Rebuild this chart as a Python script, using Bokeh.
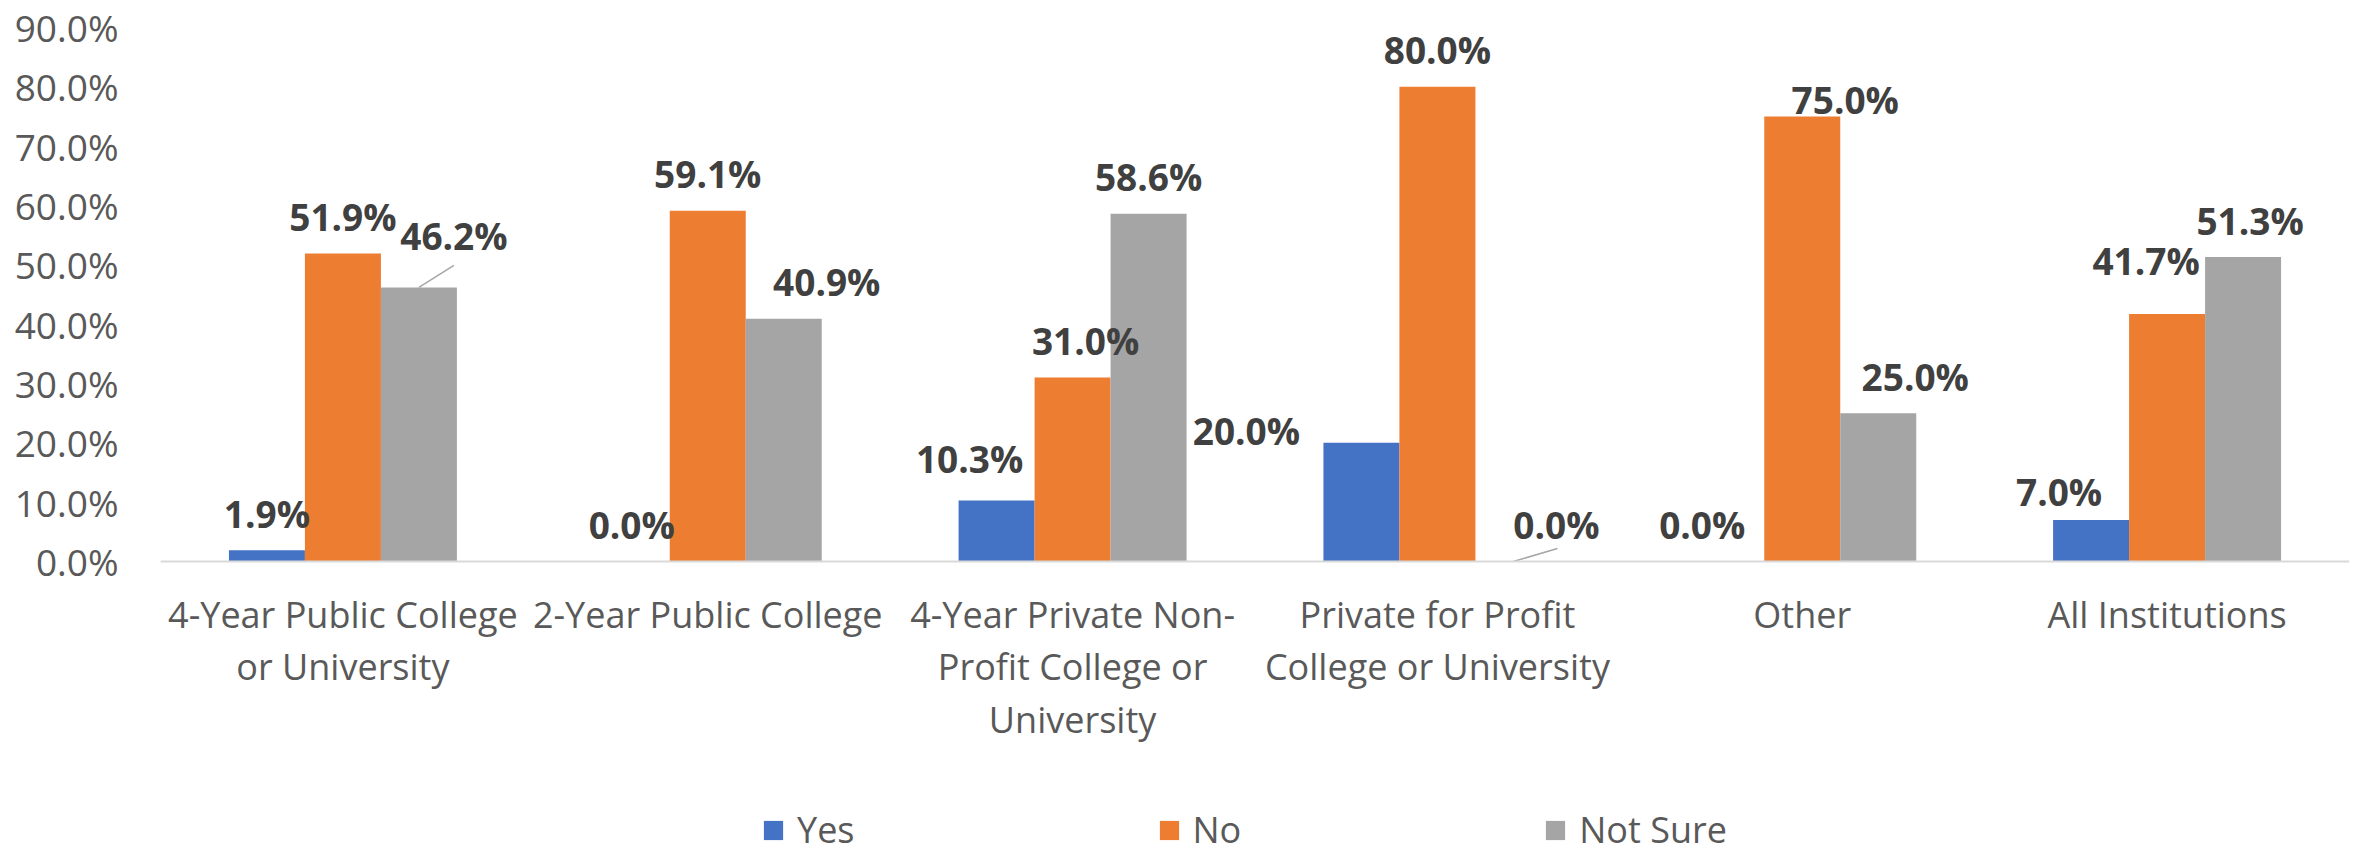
from bokeh.plotting import figure
from bokeh.models import ColumnDataSource, FactorRange, Range1d, Legend, LegendItem, PrintfTickFormatter, FixedTicker
from bokeh.transform import dodge
from bokeh.core.properties import value
from bokeh.embed import file_html
from bokeh.resources import INLINE

# ---------------- data ----------------
categories = [
    "4-Year Public College\nor University",
    "2-Year Public College",
    "4-Year Private Non-\nProfit College or\nUniversity",
    "Private for Profit\nCollege or University",
    "Other",
    "All Institutions",
]
series = ["Yes", "No", "Not Sure"]
yes = [1.9, 0.0, 10.3, 20.0, 0.0, 7.0]
no = [51.9, 59.1, 31.0, 80.0, 75.0, 41.7]
not_sure = [46.2, 40.9, 58.6, 0.0, 25.0, 51.3]
y_ticks = [0, 10, 20, 30, 40, 50, 60, 70, 80, 90]

# ---------------- styling / layout ----------------
colors = ["#4472C4", "#ED7D31", "#A5A5A5"]
W, H = 2353, 854
LEFT, RIGHT, TOP = 160, 4, 27
AXIS_Y = 561                      # pixel row of the value-0 baseline
frame_w = W - LEFT - RIGHT
px_per_cat = frame_w / len(categories)
px_per_unit = (AXIS_Y - TOP) / 90.0
y_bottom = -(H - AXIS_Y) / px_per_unit   # frame extends below 0 to hold labels + legend
bar_w = 0.2083
offsets = [-bar_w, 0.0, bar_w]
BASE_DY = -37

# manual data-label nudges (screen px), per series, per category
label_dx = {
    "Yes": [0, 0, -27, -115, -24, -32],
    "No": [0, 0, 13, 0, 43, -21],
    "Not Sure": [35, 43, 0, 43, 37, 7],
}
label_dy = {
    "Yes": [0, 0, -5, 25, 0, 9],
    "No": [0, 0, 0, 0, 20, -17],
    "Not Sure": [-15, 0, 0, 0, 0, 0],
}
# leader lines (series, category index, dx px, dy px from bar top)
leaders = [("Not Sure", 0, 35, -22), ("Not Sure", 3, 44, -13)]

vals = {"Yes": yes, "No": no, "Not Sure": not_sure}

p = figure(
    x_range=FactorRange(*categories, range_padding=0, factor_padding=0),
    y_range=Range1d(y_bottom, 90),
    width=W, height=H,
    min_border_left=LEFT, min_border_right=RIGHT,
    min_border_top=TOP, min_border_bottom=0,
    output_backend="svg", toolbar_location=None,
)
p.outline_line_color = None
p.xgrid.grid_line_color = None
p.ygrid.grid_line_color = None
p.background_fill_color = "white"
p.border_fill_color = "white"

items = []
sources = {}
for s, off, c in zip(series, offsets, colors):
    src = ColumnDataSource(dict(
        cat=categories,
        v=vals[s],
        lab=["%.1f%%" % v for v in vals[s]],
        dx=label_dx[s],
        dy=[BASE_DY + d for d in label_dy[s]],
    ))
    sources[s] = src
    r = p.vbar(x=dodge("cat", off, range=p.x_range), top="v", bottom=0, width=bar_w,
               source=src, fill_color=c, line_color=None)
    items.append(LegendItem(label=s, renderers=[r]))

sidx = {s: i for i, s in enumerate(series)}
for s, ci, ldx, ldy in leaders:
    off = offsets[sidx[s]]
    v = vals[s][ci]
    src = ColumnDataSource(dict(cat=[categories[ci]], y0=[v], y1=[v - ldy / px_per_unit]))
    p.segment(x0=dodge("cat", off, range=p.x_range),
              x1=dodge("cat", off + ldx / px_per_cat, range=p.x_range),
              y0="y0", y1="y1", source=src, line_color="#A6A6A6", line_width=1.5)

for s, off in zip(series, offsets):
    p.text(x=dodge("cat", off, range=p.x_range), y="v", text="lab",
           x_offset="dx", y_offset="dy", source=sources[s],
           text_font=value("Open Sans"), text_font_style="bold",
           text_font_size="37px", text_color="#404040",
           text_align="center", text_baseline="alphabetic")

# axes
xa = p.xaxis[0]
xa.fixed_location = 0
xa.axis_line_color = "#D9D9D9"
xa.axis_line_width = 2
xa.major_tick_line_color = None
xa.minor_tick_line_color = None
xa.major_tick_out = 0
xa.major_tick_in = 0
xa.major_label_standoff = 28
xa.major_label_text_font = "Open Sans"
xa.major_label_text_font_size = "36px"
xa.major_label_text_color = "#595959"
xa.major_label_text_line_height = 1.08

ya = p.yaxis[0]
ya.axis_line_color = None
ya.major_tick_line_color = None
ya.minor_tick_line_color = None
ya.major_tick_out = 0
ya.major_tick_in = 0
ya.ticker = FixedTicker(ticks=y_ticks)
ya.formatter = PrintfTickFormatter(format="%.1f%%")
ya.major_label_standoff = 42
ya.major_label_text_font = "Open Sans"
ya.major_label_text_font_size = "37px"
ya.major_label_text_color = "#595959"

legend = Legend(
    items=items, location=(601, 0), orientation="horizontal",
    spacing=302, glyph_width=24, glyph_height=24, label_standoff=12,
    padding=0, margin=0, border_line_color=None, background_fill_alpha=0,
    label_text_font="Open Sans", label_text_font_size="36px",
    label_text_color="#595959",
)
p.add_layout(legend)

open("out.html", "w").write(file_html(p, INLINE))
